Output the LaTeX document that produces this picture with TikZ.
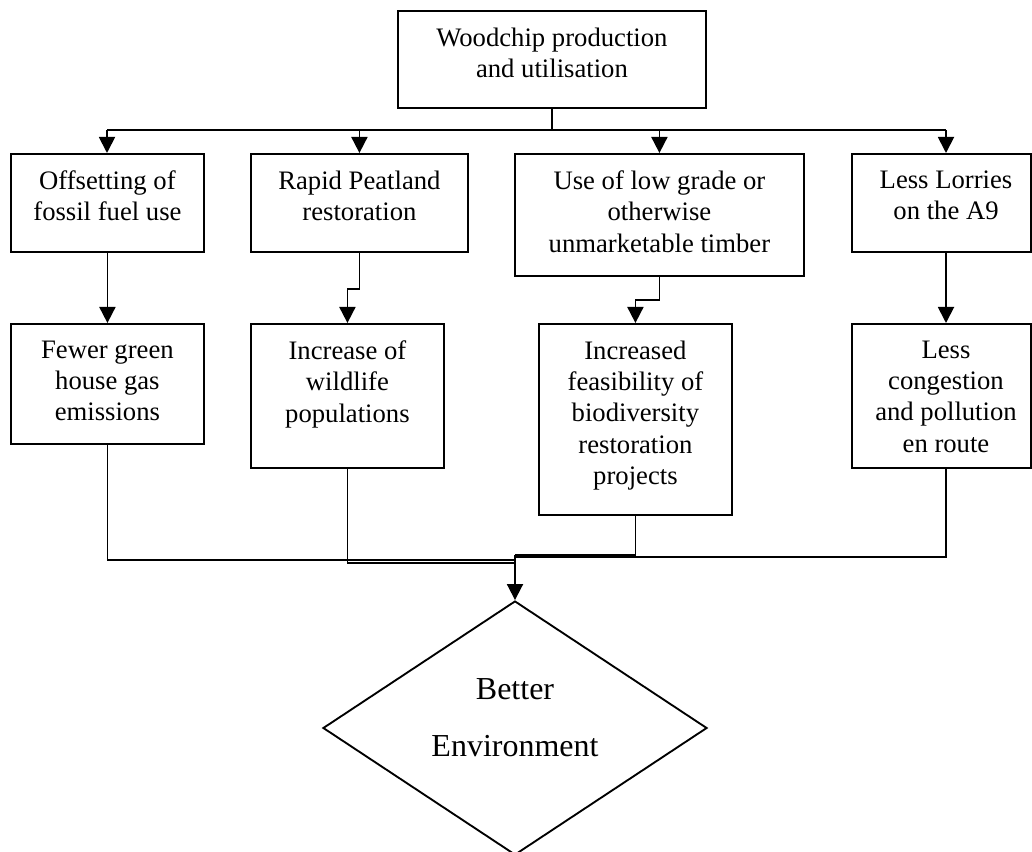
\documentclass[tikz,border=0pt]{standalone}
\usepackage{fontspec}
\setmainfont{Liberation Serif}
\usetikzlibrary{arrows.meta,shapes.geometric}

\begin{document}
\begin{tikzpicture}[x=0.75pt,y=-0.75pt,
  box/.style={draw, line width=1.4pt, rectangle, anchor=north west, inner sep=0},
  txt/.style={anchor=north, inner sep=0, align=center, font=\fontsize{20}{23.5}\selectfont},
  bigtxt/.style={anchor=north, inner sep=0, align=center, font=\fontsize{24}{42.75}\selectfont},
  link/.style={line width=1.4pt},
  arr/.style={link, -{Triangle[length=12pt,width=12pt]}}]
\useasboundingbox (0,0) rectangle (1032,852);

% top box
\node[box, minimum width=231pt, minimum height=72.75pt] (T) at (397,10) {};
\node[txt] (tT) at ([yshift=-13pt]T.north) {Woodchip production\\and utilisation};

% first row of effects
\node[box, minimum width=144.75pt, minimum height=73.5pt] (A) at (10,153) {};
\node[box, minimum width=162.75pt, minimum height=73.5pt] (B) at (250,153) {};
\node[box, minimum width=216.75pt, minimum height=91.5pt] (C) at (514,153) {};
\node[box, minimum width=134.25pt, minimum height=73.5pt] (D) at (851,153) {};
\coordinate (dcol) at (946,0);

\node[txt] (tA) at ([yshift=-13pt]A.north) {Offsetting of\\fossil fuel use};
\node[txt] (tB) at ([yshift=-13pt]B.north) {Rapid Peatland\\restoration};
\node[txt] (tC) at ([yshift=-13pt]C.north) {Use of low grade or\\otherwise\\unmarketable timber};
\node[txt] (tD) at ([yshift=-13pt]D.north -| dcol) {Less Lorries\\on the A9};

% second row of effects
\node[box, minimum width=144.75pt, minimum height=90pt] (A2) at (10,323) {};
\node[box, minimum width=144.75pt, minimum height=108pt] (B2) at (250,323) {};
\node[box, minimum width=144.75pt, minimum height=143.25pt] (C2) at (538,323) {};
\node[box, minimum width=134.25pt, minimum height=108pt] (D2) at (851,323) {};

\node[txt] (tA2) at ([yshift=-13pt]A2.north) {Fewer green\\house gas\\emissions};
\node[txt] (tB2) at ([yshift=-13pt]B2.north) {Increase of\\wildlife\\populations};
\node[txt] (tC2) at ([yshift=-13pt]C2.north) {Increased\\feasibility of\\biodiversity\\restoration\\projects};
\node[txt] (tD2) at ([yshift=-13pt]D2.north -| dcol) {Less\\congestion\\and pollution\\en route};

% outcome
\node[diamond, draw, line width=1.4pt, inner sep=0, minimum width=288pt, minimum height=190.5pt] (E) at (515,728) {};
\node[bigtxt] (tE) at (515,678) {Better\\Environment};

% distribution bar under the top box
\coordinate (busL) at (107,130);
\coordinate (busR) at (946,130);
\draw[link] (T.south) -- (T.south |- busL);
\draw[link] (busL) -- (busR);
\draw[arr] (busL) -- (busL |- A.north);
\draw[arr] (B.north |- busL) -- (B.north);
\draw[arr] (C.north |- busL) -- (C.north);
\draw[arr] (busR) -- (busR |- D.north);

% first row to second row
\draw[arr] (A.south) -- (A2.north);
\draw[arr] (B.south) -- ++(0,36) -| (B2.north);
\draw[arr] (C.south) -- ++(0,23) -| (C2.north);
\draw[arr] (D.south -| dcol) -- (D2.north -| dcol);

% collecting lines into the outcome
\coordinate (jA) at (515,560);
\coordinate (jB) at (515,563);
\coordinate (jC) at (515,555);
\coordinate (jD) at (515,557);
\draw[link] (A2.south) |- (jA);
\draw[link] (B2.south) |- (jB);
\draw[link] (C2.south) |- (jC);
\draw[link] (D2.south -| dcol) |- (jD);
\draw[arr] (jC) -- (E.north);
\end{tikzpicture}
\end{document}
